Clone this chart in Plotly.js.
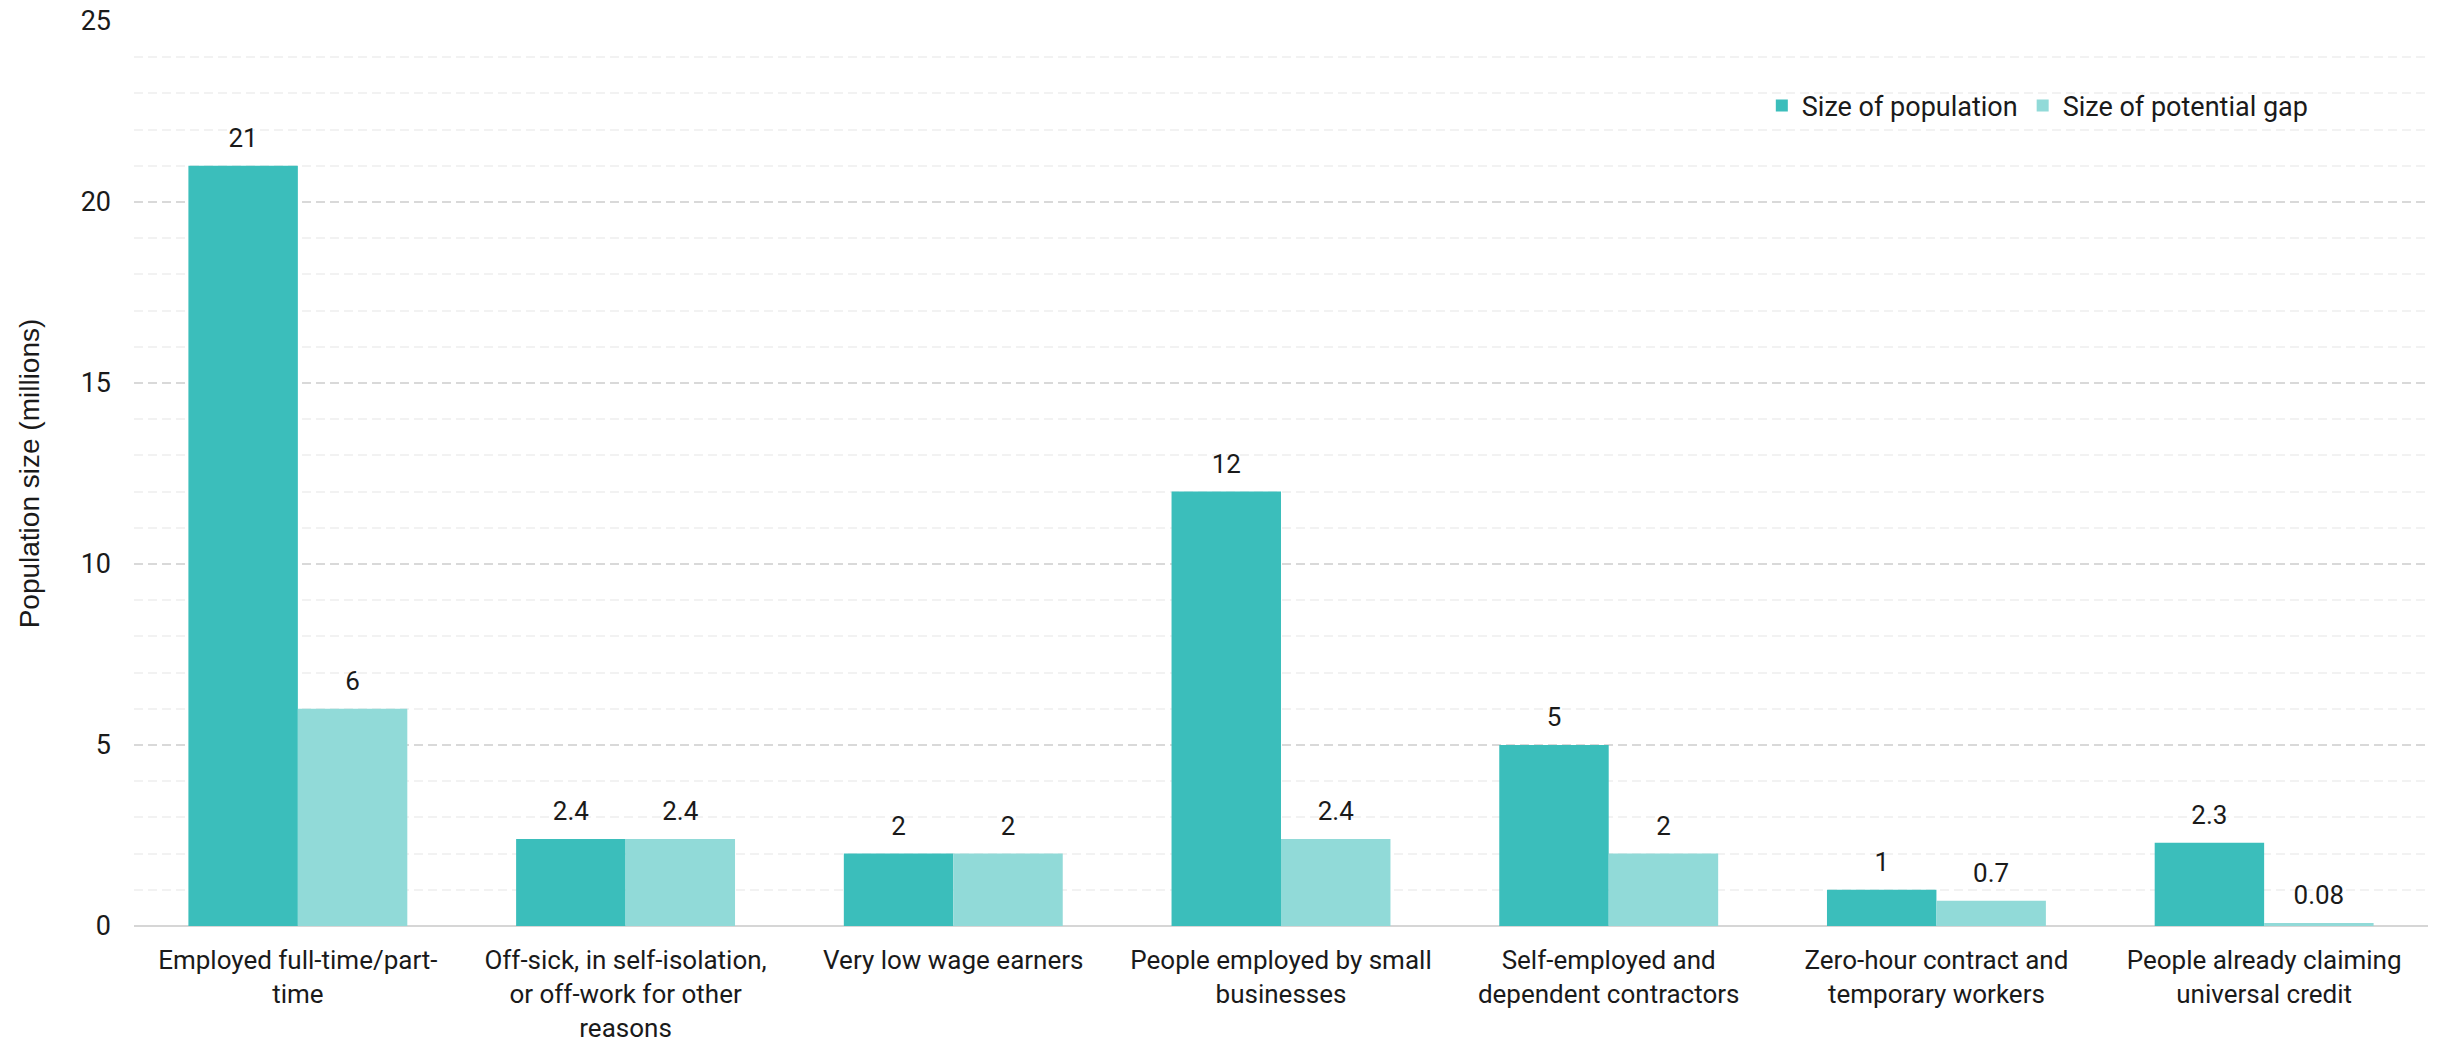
<!DOCTYPE html>
<html>
<head>
<meta charset="utf-8">
<script src="https://cdn.plot.ly/plotly-3.0.1.min.js"></script>
<style>html,body{margin:0;padding:0;background:#fff;}#chart{width:2440px;height:1046px;}</style>
</head>
<body>
<div id="chart"></div>
<script>
const categories = [
  "Employed full-time/part-<br>time",
  "Off-sick, in self-isolation,<br>or off-work for other<br>reasons",
  "Very low wage earners",
  "People employed by small<br>businesses",
  "Self-employed and<br>dependent contractors",
  "Zero-hour contract and<br>temporary workers",
  "People already claiming<br>universal credit"
];
const populationSize = [21, 2.4, 2, 12, 5, 1, 2.3];
const potentialGap = [6, 2.4, 2, 2.4, 2, 0.7, 0.08];
const seriesNames = ["Size of population", "Size of potential gap"];
const yTickValues = [0, 5, 10, 15, 20, 25];
const yTitle = "Population size (millions)";

const colors = ["#3bbebb", "#91dad8"];
const font = "Roboto, 'Noto Sans', sans-serif";
const titleFont = "'Liberation Sans', Arial, sans-serif";
const textColor = "#1a1a1a";

function labelTrace(values, group) {
  return {
    type: "scatter", mode: "markers+text", showlegend: false,
    x: categories, y: values, text: values.map(String),
    textposition: "top center",
    textfont: {size: 26, color: textColor, family: font},
    marker: {size: 18, opacity: 0, color: "#ffffff"},
    offsetgroup: group, alignmentgroup: "g", orientation: "v",
    cliponaxis: false, hoverinfo: "none"
  };
}

const traces = [
  {type: "bar", name: seriesNames[0], x: categories, y: populationSize, marker: {color: colors[0]}, offsetgroup: "a", alignmentgroup: "g", hoverinfo: "none"},
  {type: "bar", name: seriesNames[1], x: categories, y: potentialGap, marker: {color: colors[1]}, offsetgroup: "b", alignmentgroup: "g", hoverinfo: "none"},
  labelTrace(populationSize, "a"),
  labelTrace(potentialGap, "b")
];

const layout = {
  width: 2440, height: 1046,
  margin: {l: 134, r: 12, t: 21, b: 120},
  paper_bgcolor: "#ffffff", plot_bgcolor: "#ffffff",
  font: {family: font, color: textColor, size: 26},
  barmode: "group", bargap: 0.332, bargroupgap: 0,
  scattermode: "group", scattergap: 0.332,
  showlegend: true,
  legend: {orientation: "h", x: 0.7096, xanchor: "left", y: 0.906, yanchor: "middle",
           font: {size: 27, family: font, color: textColor},
           bgcolor: "rgba(255,255,255,0)", itemclick: false, traceorder: "normal"},
  xaxis: {
    type: "category", showgrid: false, showline: false, zeroline: false, ticks: "",
    ticklabelstandoff: 16,
    tickfont: {size: 26, family: font, color: textColor}, fixedrange: true
  },
  yaxis: {
    range: [0, 25], tickvals: yTickValues, ticktext: yTickValues.map(String),
    showgrid: true, gridcolor: "#d9d9d9", gridwidth: 2, griddash: "9px,5px",
    minor: {dtick: 1, showgrid: true, gridcolor: "#f2f2f2", gridwidth: 2},
    zeroline: true, zerolinecolor: "#d6d6d6", zerolinewidth: 2,
    showline: false, ticks: "", ticklabelstandoff: 22,
    tickfont: {size: 27, family: font, color: textColor},
    title: {text: yTitle, font: {size: 28, family: titleFont, color: textColor}, standoff: 32},
    fixedrange: true
  }
};

Plotly.newPlot("chart", traces, layout, {displayModeBar: false, staticPlot: true});
</script>
</body>
</html>
